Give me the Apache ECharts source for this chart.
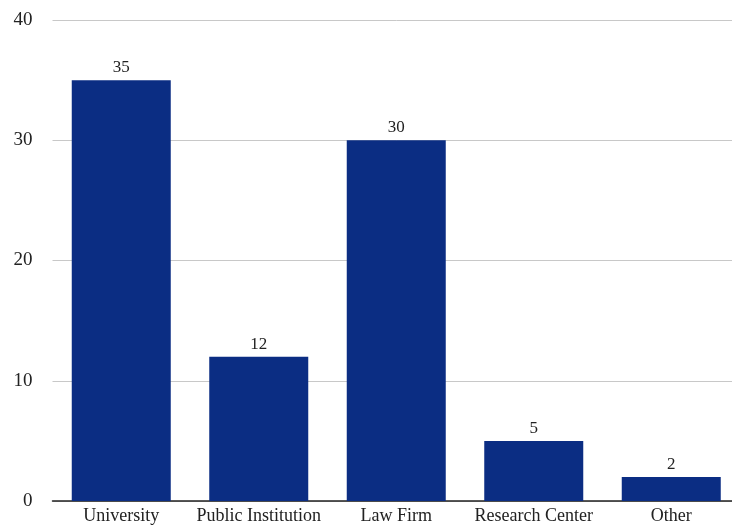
<!DOCTYPE html>
<html>
<head>
<meta charset="utf-8">
<script src="https://cdn.jsdelivr.net/npm/echarts@6/dist/echarts.min.js"></script>
<style>html,body{margin:0;padding:0;background:#fff;overflow:hidden;width:732px;height:527px;}#c{width:740px;height:527px;}</style>
</head>
<body>
<div id="c"></div>
<script>
var categories = ["University", "Public Institution", "Law Firm", "Research Center", "Other"];
var values = [35, 12, 30, 5, 2];
var yTicks = [0, 10, 20, 30, 40];

var FONT = "'Liberation Serif', 'DejaVu Serif', serif";
var chart = echarts.init(document.getElementById('c'), null, {renderer: 'canvas'});
chart.setOption({
  animation: false,
  textStyle: {fontFamily: FONT},
  grid: {left: 52.5, right: 0, top: 20, bottom: 26, containLabel: false},
  xAxis: {
    type: 'category',
    data: categories,
    axisTick: {show: false},
    axisLine: {lineStyle: {color: '#222', width: 1.5}},
    axisLabel: {color: '#222', fontSize: 18, fontFamily: FONT, margin: 6, interval: 0}
  },
  yAxis: {
    type: 'value',
    min: yTicks[0],
    max: yTicks[yTicks.length - 1],
    interval: 10,
    axisLine: {show: false},
    axisTick: {show: false},
    axisLabel: {color: '#222', fontSize: 19, fontFamily: FONT, margin: 20},
    splitLine: {lineStyle: {color: '#c8c8c8', width: 1}}
  },
  series: [{
    type: 'bar',
    data: values,
    barCategoryGap: '28%',
    itemStyle: {color: '#0b2d83'},
    label: {show: true, position: 'top', distance: 4, color: '#222', fontSize: 17, fontFamily: FONT}
  }]
});
</script>
</body>
</html>
